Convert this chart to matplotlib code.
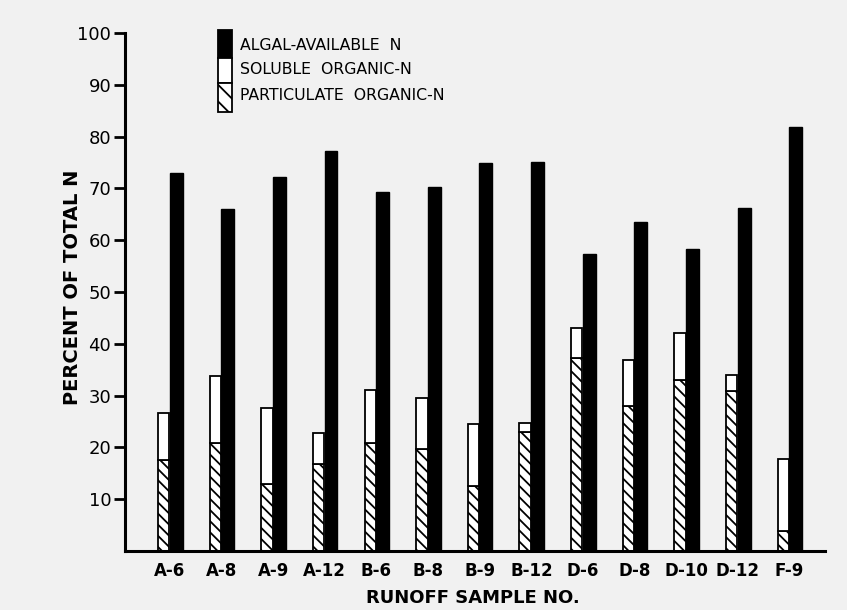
import matplotlib
matplotlib.use("Agg")
import matplotlib.pyplot as plt
from matplotlib.patches import Rectangle

samples = ["A-6", "A-8", "A-9", "A-12", "B-6", "B-8", "B-9", "B-12",
           "D-6", "D-8", "D-10", "D-12", "F-9"]
algal_available = [73.0, 66.0, 72.2, 77.2, 69.4, 70.3, 75.0, 75.2, 57.3, 63.5, 58.3, 66.2, 81.9]
particulate_org = [17.6, 20.9, 12.9, 16.8, 20.9, 19.7, 12.6, 23.0, 37.3, 28.0, 33.0, 30.9, 3.9]
soluble_org = [9.1, 12.8, 14.8, 5.9, 10.2, 9.9, 12.0, 1.8, 5.7, 8.9, 9.0, 3.0, 13.9]
yticks = [10, 20, 30, 40, 50, 60, 70, 80, 90, 100]

plt.rcParams['font.family'] = ['DejaVu Sans']
plt.rcParams['hatch.linewidth'] = 1.3

bg = "#f1f1f1"
W, H = 847.0, 610.0
fig = plt.figure(figsize=(8.47, 6.10), dpi=100, facecolor=bg)
ax = fig.add_axes([0.1476, 0.0967, 0.826, 0.849])
ax.set_facecolor(bg)

x = list(range(len(samples)))
xo = [i - 0.12 for i in x]
xb = [i + 0.12 for i in x]
ax.bar(xo, particulate_org, width=0.22, facecolor="white", edgecolor="black",
       hatch="\\\\\\", linewidth=1.3)
ax.bar(xo, soluble_org, width=0.22, bottom=particulate_org, facecolor="white",
       edgecolor="black", linewidth=1.3)
ax.bar(xb, algal_available, width=0.25, facecolor="black", edgecolor="black", linewidth=1)

ax.set_xlim(-0.87, 12.68)
ax.set_ylim(0, 100)
ax.set_yticks(yticks)
ax.set_yticklabels([str(v) for v in yticks], fontsize=13)
ax.set_xticks(x)
ax.set_xticklabels(samples, fontsize=12, fontweight="bold")
ax.tick_params(axis="x", length=0, pad=8)
ax.tick_params(axis="y", direction="out", length=8, width=2, pad=2)
for s in ["top", "right"]:
    ax.spines[s].set_visible(False)
ax.spines["left"].set_linewidth(2.2)
ax.spines["bottom"].set_linewidth(2.2)

fig.text(73 / W, 1 - 287 / H, "PERCENT OF TOTAL N", fontsize=14, fontweight="bold",
         rotation=90, ha="center", va="center")
fig.text(473 / W, 1 - 598 / H, "RUNOFF SAMPLE NO.", fontsize=13, fontweight="bold",
         ha="center", va="center")

# legend drawn as a single stacked bar key
for (py, h, fc, ht) in [(30, 28, "black", None), (58, 25, "white", None), (83, 29, "white", "\\\\")]:
    r = Rectangle((218 / W, 1 - (py + h) / H), 14 / W, h / H, transform=fig.transFigure,
                  facecolor=fc, edgecolor="black", linewidth=1.3, hatch=ht)
    fig.patches.append(r)
labels = ["ALGAL-AVAILABLE  N", "SOLUBLE  ORGANIC-N", "PARTICULATE  ORGANIC-N"]
for lab, py in zip(labels, [45, 70, 95]):
    fig.text(240 / W, 1 - py / H, lab, fontsize=11.3, va="center", ha="left")

fig.savefig("out.png", dpi=100, facecolor=bg)
